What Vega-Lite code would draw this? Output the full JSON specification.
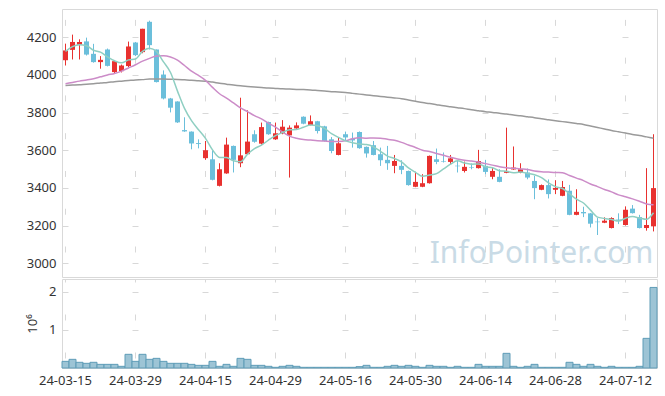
{
"$schema": "https://vega.github.io/schema/vega-lite/v6.json",
"padding": {"left": 25, "top": 8, "right": 9, "bottom": 8},
"spacing": 0,
"config": {
 "view": {"stroke": "#d9d9d9"},
 "axis": {"labelFont": "Noto Sans", "labelFontSize": 13, "labelColor": "#333", "titleFont": "Noto Sans", "titleFontSize": 13, "titleFontWeight": "normal", "titleColor": "#333", "ticks": false, "domain": false, "labelPadding": 6}
},
"datasets": {"p": [
{"d":"2024-03-15","o":4078,"h":4166,"l":4050,"c":4130,"v":175000,"m5":4125,"m20":3953,"m120":3944},
{"d":"2024-03-18","o":4133,"h":4214,"l":4082,"c":4175,"v":228000,"m5":4150,"m20":3960,"m120":3946},
{"d":"2024-03-19","o":4160,"h":4189,"l":4082,"c":4175,"v":150000,"m5":4160,"m20":3967,"m120":3948},
{"d":"2024-03-20","o":4178,"h":4198,"l":4103,"c":4108,"v":123000,"m5":4155,"m20":3973,"m120":3951},
{"d":"2024-03-21","o":4112,"h":4165,"l":4065,"c":4068,"v":150000,"m5":4131,"m20":3980,"m120":3953},
{"d":"2024-03-22","o":4068,"h":4100,"l":4033,"c":4080,"v":96000,"m5":4121,"m20":3990,"m120":3957},
{"d":"2024-03-25","o":4135,"h":4140,"l":4045,"c":4048,"v":96000,"m5":4096,"m20":4000,"m120":3960},
{"d":"2024-03-26","o":4015,"h":4078,"l":4005,"c":4073,"v":96000,"m5":4075,"m20":4008,"m120":3964},
{"d":"2024-03-27","o":4020,"h":4055,"l":4013,"c":4050,"v":44000,"m5":4064,"m20":4020,"m120":3967},
{"d":"2024-03-28","o":4047,"h":4177,"l":4042,"c":4151,"v":360000,"m5":4080,"m20":4037,"m120":3970},
{"d":"2024-03-29","o":4172,"h":4175,"l":4100,"c":4105,"v":175000,"m5":4085,"m20":4054,"m120":3973},
{"d":"2024-04-01","o":4121,"h":4245,"l":4115,"c":4245,"v":360000,"m5":4125,"m20":4073,"m120":3975},
{"d":"2024-04-02","o":4282,"h":4288,"l":4135,"c":4158,"v":228000,"m5":4142,"m20":4088,"m120":3978},
{"d":"2024-04-03","o":4135,"h":4135,"l":3960,"c":3962,"v":254000,"m5":4124,"m20":4100,"m120":3978},
{"d":"2024-04-04","o":4002,"h":4024,"l":3870,"c":3875,"v":175000,"m5":4069,"m20":4102,"m120":3978},
{"d":"2024-04-05","o":3875,"h":3878,"l":3801,"c":3826,"v":123000,"m5":4013,"m20":4095,"m120":3977},
{"d":"2024-04-08","o":3859,"h":3860,"l":3745,"c":3748,"v":123000,"m5":3914,"m20":4078,"m120":3976},
{"d":"2024-04-09","o":3707,"h":3775,"l":3698,"c":3700,"v":123000,"m5":3822,"m20":4050,"m120":3974},
{"d":"2024-04-11","o":3699,"h":3700,"l":3605,"c":3636,"v":96000,"m5":3757,"m20":4020,"m120":3972},
{"d":"2024-04-12","o":3638,"h":3658,"l":3610,"c":3633,"v":70000,"m5":3709,"m20":3997,"m120":3969},
{"d":"2024-04-15","o":3558,"h":3649,"l":3549,"c":3600,"v":70000,"m5":3663,"m20":3971,"m120":3967},
{"d":"2024-04-16","o":3552,"h":3600,"l":3440,"c":3443,"v":175000,"m5":3602,"m20":3934,"m120":3962},
{"d":"2024-04-17","o":3411,"h":3531,"l":3408,"c":3499,"v":44000,"m5":3562,"m20":3900,"m120":3956},
{"d":"2024-04-18","o":3477,"h":3667,"l":3475,"c":3630,"v":96000,"m5":3561,"m20":3877,"m120":3951},
{"d":"2024-04-19","o":3623,"h":3625,"l":3482,"c":3549,"v":44000,"m5":3544,"m20":3851,"m120":3946},
{"d":"2024-04-22","o":3531,"h":3879,"l":3510,"c":3573,"v":254000,"m5":3539,"m20":3825,"m120":3942},
{"d":"2024-04-23","o":3579,"h":3812,"l":3575,"c":3646,"v":228000,"m5":3579,"m20":3805,"m120":3939},
{"d":"2024-04-24","o":3685,"h":3706,"l":3640,"c":3645,"v":70000,"m5":3609,"m20":3784,"m120":3936},
{"d":"2024-04-25","o":3635,"h":3747,"l":3630,"c":3723,"v":70000,"m5":3627,"m20":3767,"m120":3933},
{"d":"2024-04-26","o":3750,"h":3752,"l":3682,"c":3685,"v":44000,"m5":3654,"m20":3744,"m120":3930},
{"d":"2024-04-29","o":3658,"h":3747,"l":3655,"c":3690,"v":18000,"m5":3678,"m20":3723,"m120":3928},
{"d":"2024-04-30","o":3689,"h":3760,"l":3685,"c":3725,"v":44000,"m5":3694,"m20":3697,"m120":3926},
{"d":"2024-05-02","o":3679,"h":3732,"l":3455,"c":3720,"v":70000,"m5":3709,"m20":3675,"m120":3925},
{"d":"2024-05-03","o":3716,"h":3748,"l":3714,"c":3732,"v":44000,"m5":3710,"m20":3664,"m120":3923},
{"d":"2024-05-07","o":3778,"h":3780,"l":3738,"c":3741,"v":18000,"m5":3722,"m20":3657,"m120":3922},
{"d":"2024-05-08","o":3734,"h":3785,"l":3732,"c":3754,"v":18000,"m5":3734,"m20":3654,"m120":3920},
{"d":"2024-05-09","o":3754,"h":3756,"l":3689,"c":3702,"v":18000,"m5":3730,"m20":3651,"m120":3917},
{"d":"2024-05-10","o":3727,"h":3730,"l":3646,"c":3649,"v":18000,"m5":3716,"m20":3649,"m120":3914},
{"d":"2024-05-13","o":3658,"h":3670,"l":3584,"c":3596,"v":18000,"m5":3688,"m20":3647,"m120":3911},
{"d":"2024-05-14","o":3575,"h":3670,"l":3573,"c":3637,"v":18000,"m5":3668,"m20":3647,"m120":3909},
{"d":"2024-05-16","o":3685,"h":3699,"l":3654,"c":3668,"v":18000,"m5":3650,"m20":3650,"m120":3906},
{"d":"2024-05-17","o":3660,"h":3694,"l":3614,"c":3652,"v":18000,"m5":3640,"m20":3661,"m120":3902},
{"d":"2024-05-20","o":3697,"h":3700,"l":3608,"c":3611,"v":35000,"m5":3633,"m20":3666,"m120":3898},
{"d":"2024-05-21","o":3618,"h":3620,"l":3561,"c":3583,"v":70000,"m5":3630,"m20":3664,"m120":3894},
{"d":"2024-05-22","o":3627,"h":3649,"l":3573,"c":3575,"v":18000,"m5":3618,"m20":3665,"m120":3890},
{"d":"2024-05-23","o":3579,"h":3614,"l":3517,"c":3547,"v":18000,"m5":3594,"m20":3664,"m120":3886},
{"d":"2024-05-24","o":3549,"h":3623,"l":3496,"c":3531,"v":44000,"m5":3569,"m20":3658,"m120":3882},
{"d":"2024-05-27","o":3517,"h":3575,"l":3478,"c":3543,"v":70000,"m5":3556,"m20":3653,"m120":3878},
{"d":"2024-05-28","o":3517,"h":3547,"l":3473,"c":3496,"v":44000,"m5":3538,"m20":3642,"m120":3874},
{"d":"2024-05-29","o":3490,"h":3492,"l":3412,"c":3415,"v":70000,"m5":3506,"m20":3628,"m120":3867},
{"d":"2024-05-30","o":3406,"h":3482,"l":3404,"c":3432,"v":44000,"m5":3483,"m20":3615,"m120":3860},
{"d":"2024-05-31","o":3406,"h":3473,"l":3404,"c":3425,"v":18000,"m5":3462,"m20":3600,"m120":3853},
{"d":"2024-06-03","o":3425,"h":3572,"l":3423,"c":3570,"v":70000,"m5":3468,"m20":3593,"m120":3848},
{"d":"2024-06-04","o":3552,"h":3609,"l":3526,"c":3538,"v":44000,"m5":3476,"m20":3583,"m120":3842},
{"d":"2024-06-05","o":3541,"h":3588,"l":3535,"c":3538,"v":44000,"m5":3501,"m20":3573,"m120":3836},
{"d":"2024-06-07","o":3538,"h":3575,"l":3526,"c":3557,"v":18000,"m5":3526,"m20":3563,"m120":3831},
{"d":"2024-06-10","o":3518,"h":3543,"l":3482,"c":3515,"v":44000,"m5":3544,"m20":3554,"m120":3826},
{"d":"2024-06-11","o":3490,"h":3540,"l":3482,"c":3512,"v":18000,"m5":3532,"m20":3547,"m120":3821},
{"d":"2024-06-12","o":3510,"h":3530,"l":3499,"c":3507,"v":18000,"m5":3526,"m20":3543,"m120":3815},
{"d":"2024-06-13","o":3505,"h":3602,"l":3503,"c":3543,"v":96000,"m5":3527,"m20":3538,"m120":3810},
{"d":"2024-06-14","o":3517,"h":3549,"l":3473,"c":3485,"v":44000,"m5":3512,"m20":3529,"m120":3805},
{"d":"2024-06-17","o":3459,"h":3505,"l":3446,"c":3490,"v":44000,"m5":3507,"m20":3521,"m120":3801},
{"d":"2024-06-18","o":3459,"h":3499,"l":3430,"c":3432,"v":44000,"m5":3491,"m20":3512,"m120":3796},
{"d":"2024-06-19","o":3480,"h":3720,"l":3478,"c":3490,"v":386000,"m5":3488,"m20":3507,"m120":3792},
{"d":"2024-06-20","o":3498,"h":3620,"l":3496,"c":3508,"v":44000,"m5":3481,"m20":3504,"m120":3787},
{"d":"2024-06-21","o":3480,"h":3531,"l":3478,"c":3499,"v":18000,"m5":3484,"m20":3501,"m120":3783},
{"d":"2024-06-24","o":3482,"h":3503,"l":3446,"c":3455,"v":44000,"m5":3477,"m20":3498,"m120":3778},
{"d":"2024-06-25","o":3437,"h":3464,"l":3340,"c":3399,"v":96000,"m5":3470,"m20":3490,"m120":3773},
{"d":"2024-06-26","o":3390,"h":3418,"l":3388,"c":3415,"v":18000,"m5":3455,"m20":3486,"m120":3767},
{"d":"2024-06-27","o":3415,"h":3445,"l":3344,"c":3367,"v":18000,"m5":3427,"m20":3484,"m120":3762},
{"d":"2024-06-28","o":3390,"h":3441,"l":3367,"c":3400,"v":18000,"m5":3407,"m20":3482,"m120":3757},
{"d":"2024-07-01","o":3358,"h":3437,"l":3356,"c":3405,"v":18000,"m5":3397,"m20":3481,"m120":3752},
{"d":"2024-07-02","o":3385,"h":3416,"l":3255,"c":3257,"v":150000,"m5":3369,"m20":3466,"m120":3747},
{"d":"2024-07-03","o":3257,"h":3393,"l":3255,"c":3273,"v":96000,"m5":3340,"m20":3452,"m120":3742},
{"d":"2024-07-04","o":3272,"h":3300,"l":3245,"c":3265,"v":44000,"m5":3320,"m20":3439,"m120":3737},
{"d":"2024-07-05","o":3265,"h":3267,"l":3190,"c":3210,"v":96000,"m5":3282,"m20":3421,"m120":3729},
{"d":"2024-07-08","o":3221,"h":3240,"l":3150,"c":3218,"v":44000,"m5":3245,"m20":3407,"m120":3721},
{"d":"2024-07-09","o":3215,"h":3244,"l":3213,"c":3226,"v":18000,"m5":3238,"m20":3392,"m120":3713},
{"d":"2024-07-10","o":3187,"h":3244,"l":3185,"c":3240,"v":44000,"m5":3232,"m20":3379,"m120":3705},
{"d":"2024-07-11","o":3232,"h":3265,"l":3208,"c":3225,"v":18000,"m5":3224,"m20":3363,"m120":3698},
{"d":"2024-07-12","o":3203,"h":3302,"l":3200,"c":3284,"v":18000,"m5":3239,"m20":3353,"m120":3691},
{"d":"2024-07-15","o":3290,"h":3309,"l":3264,"c":3266,"v":18000,"m5":3248,"m20":3342,"m120":3684},
{"d":"2024-07-16","o":3245,"h":3257,"l":3185,"c":3187,"v":44000,"m5":3240,"m20":3329,"m120":3678},
{"d":"2024-07-17","o":3187,"h":3505,"l":3173,"c":3203,"v":780000,"m5":3233,"m20":3315,"m120":3671},
{"d":"2024-07-18","o":3196,"h":3685,"l":3169,"c":3399,"v":2120000,"m5":3268,"m20":3310,"m120":3664}
]},
"vconcat": [
 {
  "width": 595, "height": 268,
  "layer": [
   {
    "data": {"values": [{"t": "InfoPointer.com"}]},
    "mark": {"type": "text", "font": "Noto Sans", "fontSize": 30, "color": "#c9dbe6", "align": "center", "baseline": "middle"},
    "encoding": {
     "text": {"field": "t"},
     "x": {"datum": "2024-06-26", "type": "ordinal", "scale": {"paddingInner": 0, "paddingOuter": 0}, "axis": {"orient": "top", "values": ["2024-03-15","2024-03-29","2024-04-15","2024-04-29","2024-05-16","2024-05-30","2024-06-14","2024-06-28","2024-07-12"], "labels": false, "title": null, "grid": true, "gridDash": [6, 31.77], "gridDashOffset": 12.77, "gridColor": "#d8d8d8"}},
     "y": {"datum": 3049, "type": "quantitative", "scale": {"domain": [2927, 4350], "nice": false, "zero": false}, "axis": {"values": [3000,3200,3400,3600,3800,4000,4200], "format": "d", "title": null, "grid": true, "gridDash": [6, 64], "gridColor": "#d8d8d8"}}
    }
   },
   {
    "data": {"name": "p"},
    "mark": {"type": "rule", "strokeWidth": 1},
    "encoding": {
     "x": {"field": "d", "type": "ordinal"},
     "y": {"field": "l", "type": "quantitative", "title": null},
     "y2": {"field": "h"},
     "color": {"condition": {"test": "datum.c >= datum.o", "value": "#e8312f"}, "value": "#6bbfdb"}
    }
   },
   {
    "data": {"name": "p"},
    "mark": {"type": "bar", "width": {"band": 0.72}},
    "encoding": {
     "x": {"field": "d", "type": "ordinal"},
     "y": {"field": "o", "type": "quantitative", "title": null},
     "y2": {"field": "c"},
     "color": {"condition": {"test": "datum.c >= datum.o", "value": "#e8312f"}, "value": "#6bbfdb"}
    }
   },
   {
    "data": {"name": "p"},
    "mark": {"type": "line", "color": "#9a9a9a", "strokeWidth": 1.5, "interpolate": "monotone"},
    "encoding": {"x": {"field": "d", "type": "ordinal"}, "y": {"field": "m120", "type": "quantitative", "title": null}}
   },
   {
    "data": {"name": "p"},
    "mark": {"type": "line", "color": "#cc8cc8", "strokeWidth": 1.5, "interpolate": "monotone"},
    "encoding": {"x": {"field": "d", "type": "ordinal"}, "y": {"field": "m20", "type": "quantitative", "title": null}}
   },
   {
    "data": {"name": "p"},
    "mark": {"type": "line", "color": "#8fcfc2", "strokeWidth": 1.5, "interpolate": "monotone"},
    "encoding": {"x": {"field": "d", "type": "ordinal"}, "y": {"field": "m5", "type": "quantitative", "title": null}}
   }
  ]
 },
 {
  "width": 595, "height": 89,
  "data": {"name": "p"},
  "mark": {"type": "bar", "fill": "#9dc4d5", "stroke": "#5e9cb7", "strokeWidth": 1},
  "encoding": {
   "x": {"field": "d", "type": "ordinal", "scale": {"paddingInner": 0, "paddingOuter": 0}, "axis": {"values": ["2024-03-15","2024-03-29","2024-04-15","2024-04-29","2024-05-16","2024-05-30","2024-06-14","2024-06-28","2024-07-12"], "labelExpr": "substring(datum.value, 2)", "labelAngle": 0, "title": null, "grid": true, "gridDash": [6, 32], "gridDashOffset": 3, "gridColor": "#d8d8d8"}},
   "y": {"field": "v", "type": "quantitative", "scale": {"domain": [0, 2342000], "nice": false}, "axis": {"values": [1000000, 2000000], "labelExpr": "datum.value / 1000000", "title": "10⁶", "titlePadding": 9, "grid": true, "gridDash": [6, 64], "gridColor": "#d8d8d8"}}
  }
 }
]
}
